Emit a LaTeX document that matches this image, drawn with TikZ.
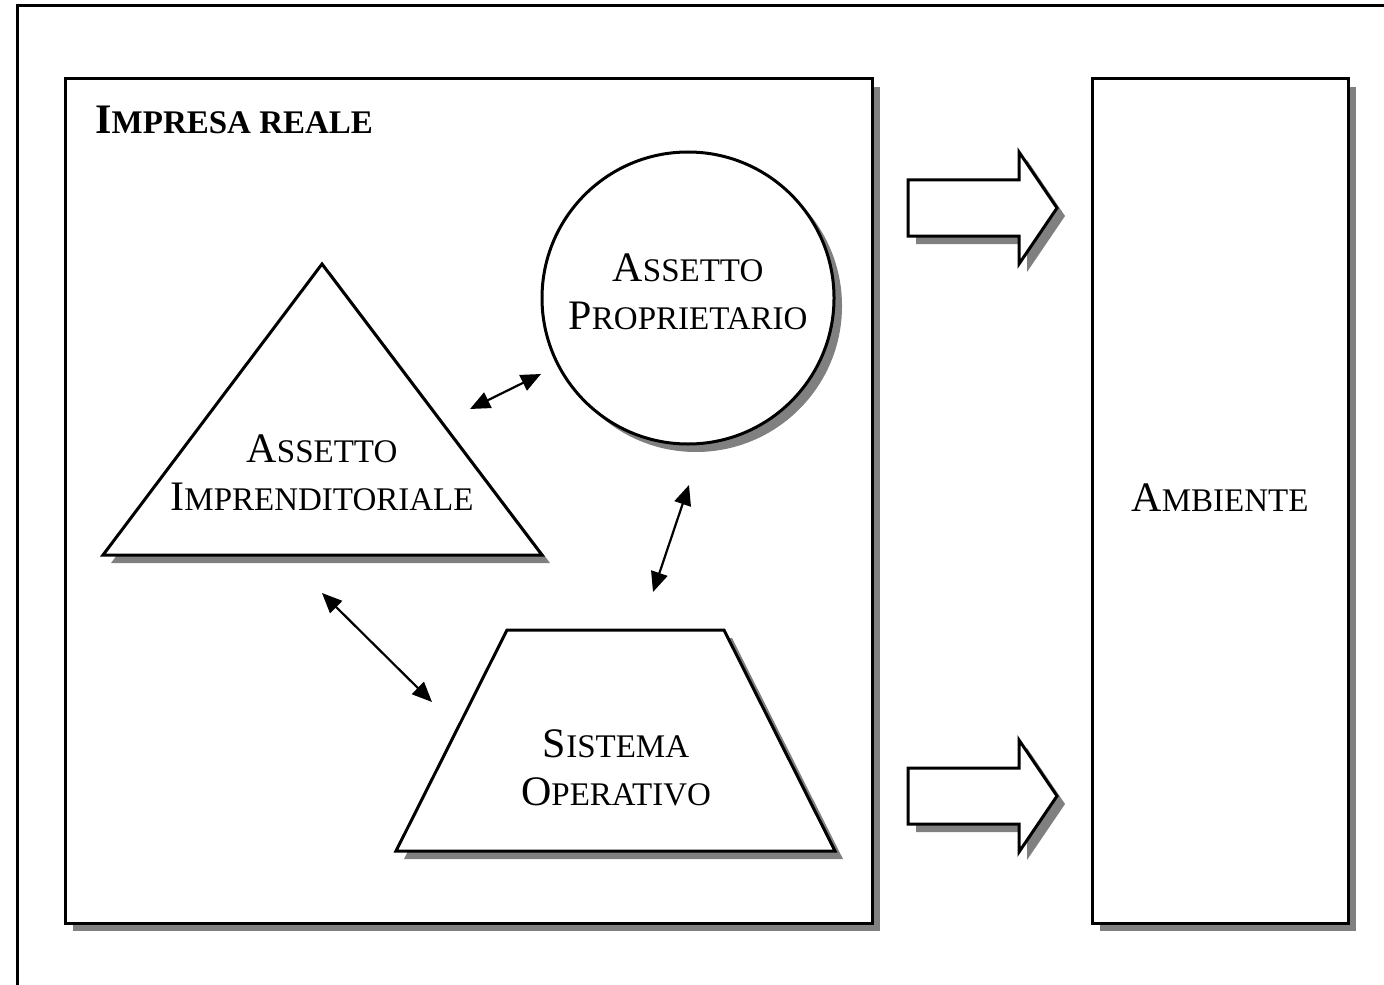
\documentclass[tikz,border=0pt]{standalone}
\usepackage{fontspec}
\setmainfont{Liberation Serif}
\usetikzlibrary{arrows.meta,shadows}

% hand-made small capitals: a large initial followed by smaller capitals
\newcommand\capword[2]{{\fontsize{21}{24}\selectfont #1}{\fontsize{16.5}{24}\selectfont #2}}

\tikzset{
  shade box/.style={drop shadow={shadow xshift=4pt, shadow yshift=-4pt, fill=black!50, opacity=1}},
  outline/.style={draw=black, line width=1.5pt, fill=white, line join=miter},
  label text/.style={align=center, inner sep=0pt, font=\fontsize{16.5}{24}\selectfont},
  link/.style={line width=1.1pt, {Triangle[length=10pt,width=8.5pt]}-{Triangle[length=10pt,width=8.5pt]}},
}

\begin{document}
\begin{tikzpicture}[x=0.5pt, y=-0.5pt]
  \useasboundingbox (0,0) rectangle (1384,984);
  \clip (0,0) rectangle (1384,984);

  % page frame, running off the right and bottom edges
  \draw[line width=1.5pt] (17,6) rectangle (1420,1020);

  % the enterprise and its environment
  \draw[outline, shade box] (65,79) rectangle (872,923);
  \draw[outline, shade box] (1092,79) rectangle (1348,923);
  \node[anchor=base west, inner sep=0pt, font=\bfseries] (impresa) at (95,134)
    {\capword{I}{MPRESA REALE}};
  \node[label text] (ambiente) at (1220,498) {\capword{A}{MBIENTE}};

  % block arrows towards the environment
  \draw[outline, shade box] (908,180) -- (1019,180) -- (1019,152) -- (1057,208)
    -- (1019,264) -- (1019,236) -- (908,236) -- cycle;
  \draw[outline, shade box] (908,768) -- (1019,768) -- (1019,740) -- (1057,796)
    -- (1019,852) -- (1019,824) -- (908,824) -- cycle;

  % ownership: circle
  \node[circle, outline, shade box, minimum size=146pt, inner sep=0pt] (prop) at (688,298) {};
  \node[label text] (proptext) at (688,292) {\capword{A}{SSETTO}\\\capword{P}{ROPRIETARIO}};

  % entrepreneurship: triangle
  \draw[outline, shade box] (322,264) -- (542,555) -- (103,555) -- cycle;
  \node[label text] (impr) at (322,473) {\capword{A}{SSETTO}\\\capword{I}{MPRENDITORIALE}};

  % operating system: trapezium
  \draw[outline, shade box] (507,630) -- (724,630) -- (835,851) -- (396,851) -- cycle;
  \node[label text] (sist) at (616,768) {\capword{S}{ISTEMA}\\\capword{O}{PERATIVO}};

  % mutual relations
  \coordinate (a1) at (470,409);
  \coordinate (a2) at (541,374);
  \coordinate (b1) at (653,592);
  \coordinate (b2) at (689,485);
  \coordinate (c1) at (322,593);
  \coordinate (c2) at (432,702);
  \draw[link] (a1) -- (a2);
  \draw[link] (b1) -- (b2);
  \draw[link] (c1) -- (c2);
\end{tikzpicture}
\end{document}
